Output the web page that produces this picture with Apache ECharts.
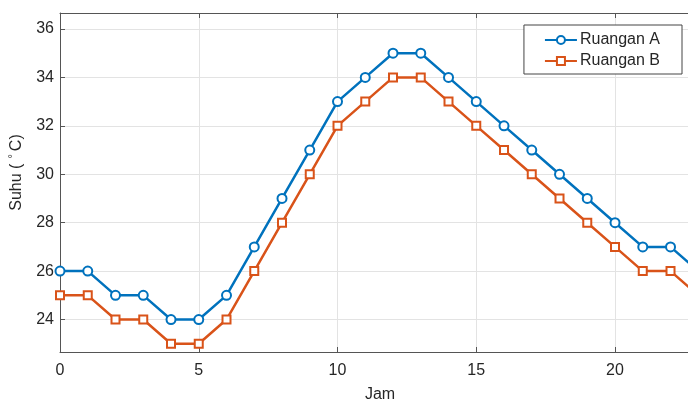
<!DOCTYPE html>
<html>
<head>
<meta charset="utf-8">
<script src="https://cdn.jsdelivr.net/npm/echarts@6/dist/echarts.min.js"></script>
<style>html,body{margin:0;padding:0;background:#fff;}#c{width:688px;height:399px;}</style>
</head>
<body>
<div id="c"></div>
<script>
const hours = [0,1,2,3,4,5,6,7,8,9,10,11,12,13,14,15,16,17,18,19,20,21,22,23];
const ruanganA = [26,26,25,25,24,24,25,27,29,31,33,34,35,35,34,33,32,31,30,29,28,27,27,26];
const ruanganB = [25,25,24,24,23,23,24,26,28,30,32,33,34,34,33,32,31,30,29,28,27,26,26,25];
const xTicks = [0,5,10,15,20];
const yTicks = [24,26,28,30,32,34,36];

const font = 'Liberation Sans, Arial, sans-serif';
const txt = '#262626';
const axisCol = '#555555';
const gridCol = '#e3e3e3';

const chart = echarts.init(document.getElementById('c'), null, {renderer: 'canvas'});
chart.setOption({
  animation: false,
  backgroundColor: '#fff',
  textStyle: {fontFamily: font},
  grid: {left: 60, top: 13, right: 0, bottom: 47, containLabel: false, outerBoundsMode: 'none'},
  legend: {
    orient: 'vertical',
    right: 6, top: 25,
    backgroundColor: '#fff',
    borderColor: '#444',
    borderWidth: 1,
    padding: [7, 22, 5, 20],
    itemGap: 5,
    itemWidth: 32,
    itemHeight: 10,
    textStyle: {fontSize: 16, color: txt, fontFamily: font, padding: [0,0,0,-2]},
    data: ['Ruangan A', 'Ruangan B']
  },
  xAxis: [{
    type: 'value', min: 0, max: 22.63, interval: 5,
    name: 'Jam', nameLocation: 'middle', nameGap: 35,
    nameTextStyle: {fontSize: 16, color: txt, fontFamily: font, padding: [0,0,0,12]},
    axisLine: {show: true, onZero: false, lineStyle: {color: axisCol, width: 1}},
    axisTick: {show: true, inside: true, length: 5, lineStyle: {color: axisCol}},
    axisLabel: {fontSize: 16, color: txt, margin: 11, fontFamily: font,
      showMaxLabel: false,
      formatter: v => xTicks.includes(v) ? String(v) : ''},
    splitLine: {show: true, lineStyle: {color: gridCol, width: 1}}
  }, {
    type: 'value', min: 0, max: 22.63, interval: 5, position: 'top',
    axisLine: {show: true, onZero: false, lineStyle: {color: axisCol, width: 1}},
    axisTick: {show: true, inside: true, length: 5, lineStyle: {color: axisCol}},
    axisLabel: {show: false},
    splitLine: {show: false}
  }],
  yAxis: {
    type: 'value', min: 22.66, max: 36.66, splitNumber: 7,
    name: '{n|Suhu (}{s|°}{n|C)}', nameLocation: 'middle', nameGap: 34,
    nameTextStyle: {
      padding: [0, 0, 0, 20],
      rich: {
        n: {fontSize: 16, color: txt, fontFamily: font},
        s: {fontSize: 11, color: txt, fontFamily: font, verticalAlign: 'top', padding: [0,3,8,5]}
      }
    },
    axisLine: {show: true, onZero: false, lineStyle: {color: axisCol, width: 1}},
    axisTick: {show: true, inside: true, length: 5, lineStyle: {color: axisCol}},
    axisLabel: {fontSize: 16, color: txt, margin: 6, fontFamily: font,
      formatter: v => yTicks.includes(Math.round(v*1000)/1000) ? String(v) : ''},
    splitLine: {show: true, lineStyle: {color: gridCol, width: 1}}
  },
  series: [{
    name: 'Ruangan A', type: 'line',
    data: hours.map((h, i) => [h, ruanganA[i]]),
    symbol: 'emptyCircle', symbolSize: 9,
    color: '#0072BD',
    lineStyle: {width: 2.5, color: '#0072BD'},
    itemStyle: {color: '#0072BD', borderColor: '#0072BD', borderWidth: 2}
  }, {
    name: 'Ruangan B', type: 'line',
    data: hours.map((h, i) => [h, ruanganB[i]]),
    symbol: 'emptyRect', symbolSize: 8,
    color: '#D95319',
    lineStyle: {width: 2.5, color: '#D95319'},
    itemStyle: {color: '#D95319', borderColor: '#D95319', borderWidth: 1.5}
  }]
});
</script>
</body>
</html>
